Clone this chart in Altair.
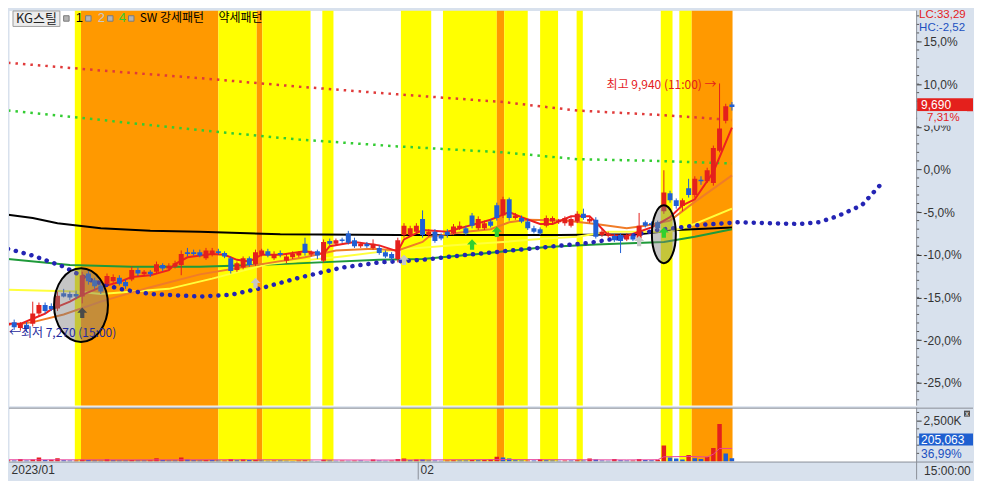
import altair as alt
import pandas as pd

# ---------------- candle data (percent vs. base price) ----------------
opens = [-18.3, -17.9, -18.6, -18.2, -18.1, -16.9, -15.9, -16.0, -16.3, -14.5,
         -14.6, -14.6, -14.9, -12.2, -13.0, -13.6, -13.4, -13.1, -12.7, -13.2,
         -12.9, -11.8, -12.3, -12.0, -12.0, -11.2, -11.6, -11.4, -11.2, -9.7,
         -9.7, -9.7, -10.4, -10.0, -9.6, -9.8, -10.4, -11.8, -11.5, -10.4,
         -11.1, -10.0, -9.6, -10.4, -9.8, -10.7, -10.3, -10.1, -8.7, -10.0,
         -9.6, -10.7, -8.4, -8.7, -8.2, -7.5, -8.3, -9.0, -8.7, -9.2,
         -9.2, -9.7, -9.9, -10.5, -7.7, -7.7, -7.3, -5.8, -7.7, -7.3,
         -7.7, -7.3, -7.5, -6.9, -6.9, -5.4, -6.9, -6.9, -6.1, -4.2,
         -5.4, -3.5, -5.7, -5.7, -6.1, -6.9, -7.0, -6.6, -6.1, -6.2,
         -6.3, -6.6, -6.1, -5.2, -6.1, -5.9, -7.7, -7.8, -7.8, -7.7,
         -8.2, -7.8, -8.1, -6.2, -6.3, -6.2, -4.9, -2.8, -3.6, -4.3,
         -2.2, -3.0, -1.2, -1.4, -1.6, 2.2, 5.7, 7.6]
highs = [-17.6, -17.6, -17.9, -17.9, -15.5, -15.6, -15.6, -15.7, -14.3, -14.0,
         -14.3, -14.2, -12.0, -11.9, -12.7, -13.3, -12.2, -12.3, -12.4, -12.9,
         -11.4, -11.5, -11.8, -11.8, -10.8, -11.0, -11.0, -10.7, -9.5, -9.2,
         -9.4, -9.4, -9.2, -9.2, -9.3, -9.6, -10.2, -10.8, -10.2, -10.2,
         -9.4, -9.3, -9.3, -9.6, -9.5, -9.9, -9.6, -9.6, -8.0, -9.5,
         -9.4, -8.2, -8.1, -8.1, -8.0, -7.2, -8.0, -8.5, -8.5, -8.2,
         -8.9, -9.5, -9.7, -8.0, -6.3, -6.6, -6.3, -4.8, -7.0, -7.0,
         -7.5, -7.0, -6.4, -6.1, -6.6, -5.1, -5.5, -6.0, -5.8, -3.9,
         -3.2, -3.3, -5.1, -5.4, -5.8, -6.6, -6.8, -5.4, -5.5, -5.8,
         -5.5, -5.5, -4.9, -4.6, -5.6, -5.6, -7.0, -7.3, -7.6, -7.5,
         -7.5, -7.5, -5.1, -6.0, -6.1, -6.0, -0.1, -2.5, -3.4, -3.4,
         -1.1, -0.8, -0.8, 0.2, 2.8, 10.08, 7.7, 7.9]
lows = [-19.5, -18.8, -18.9, -19.0, -18.4, -17.2, -16.9, -16.6, -16.6, -15.0,
        -15.3, -15.2, -15.7, -13.5, -14.0, -14.6, -13.6, -13.3, -13.6, -14.0,
        -13.1, -12.5, -12.5, -12.6, -12.2, -11.9, -11.8, -11.6, -12.4, -10.2,
        -10.1, -10.3, -10.6, -10.2, -10.0, -10.4, -12.2, -12.0, -11.7, -11.4,
        -11.3, -10.2, -10.3, -10.6, -10.3, -11.0, -10.5, -10.3, -10.1, -10.2,
        -10.5, -10.9, -8.9, -8.9, -8.6, -8.8, -9.2, -9.2, -9.2, -9.4,
        -10.0, -10.4, -10.8, -10.9, -8.0, -7.9, -7.5, -8.0, -7.9, -8.6,
        -8.3, -8.0, -7.7, -7.1, -7.7, -6.9, -7.1, -7.1, -6.8, -6.0,
        -5.7, -6.0, -5.9, -6.3, -7.1, -7.5, -7.7, -6.8, -6.3, -6.4,
        -6.6, -6.8, -6.3, -5.9, -6.3, -8.1, -7.9, -8.0, -8.5, -9.8,
        -8.4, -8.4, -8.3, -6.8, -6.7, -7.1, -5.2, -3.9, -4.6, -4.9,
        -3.3, -3.3, -1.8, -1.6, -1.9, 2.0, 5.4, 6.9]
closes = [-18.0, -18.5, -18.1, -18.7, -16.9, -15.9, -16.6, -16.4, -14.8, -14.9,
          -15.0, -14.9, -12.4, -13.1, -13.7, -14.3, -12.5, -12.6, -13.4, -13.7,
          -11.8, -12.2, -12.0, -12.3, -11.1, -11.6, -11.3, -11.0, -9.9, -9.9,
          -9.9, -10.1, -9.5, -9.5, -9.8, -10.2, -11.9, -11.0, -10.4, -11.2,
          -9.7, -9.5, -10.1, -9.9, -10.0, -10.2, -9.9, -9.8, -9.8, -9.7,
          -10.1, -8.5, -8.7, -8.3, -8.4, -8.6, -9.0, -8.7, -9.0, -8.7,
          -9.8, -10.2, -10.4, -8.3, -6.6, -6.9, -6.6, -7.7, -7.3, -8.4,
          -8.1, -7.7, -6.7, -6.6, -7.5, -6.6, -5.8, -6.3, -6.6, -5.7,
          -3.5, -5.7, -5.4, -6.1, -6.9, -7.3, -7.5, -5.7, -5.7, -6.0,
          -5.7, -5.8, -5.2, -5.7, -5.8, -7.9, -7.3, -7.5, -8.3, -8.4,
          -7.7, -8.2, -6.6, -6.6, -6.5, -6.9, -2.7, -3.6, -4.3, -3.6,
          -3.0, -1.1, -1.4, -0.1, 2.5, 4.8, 7.4, 7.31]
volume_k = [80, 60, 150, 70, 120, 250, 90, 110, 200, 80,
            60, 70, 110, 90, 60, 50, 150, 80, 70, 60,
            90, 70, 60, 80, 200, 90, 70, 60, 250, 120,
            80, 70, 100, 90, 60, 70, 150, 80, 140, 90,
            110, 60, 50, 70, 60, 50, 40, 60, 80, 50,
            40, 110, 70, 50, 60, 50, 70, 60, 40, 130,
            60, 50, 70, 150, 190, 80, 130, 120, 70, 60,
            50, 60, 80, 70, 60, 100, 80, 90, 130, 300,
            250, 180, 80, 60, 70, 60, 140, 80, 60, 50,
            70, 60, 80, 60, 190, 130, 60, 50, 150, 80,
            60, 70, 150, 90, 80, 110, 980, 250, 180, 120,
            400, 200, 150, 280, 830, 2300, 490, 205.063]

# ---------------- pattern bands (bar index ranges) ----------------
band_start = [10.8, 11.8, 34.0, 40.2, 41.1, 50.8, 63.5, 70.3, 79.0, 80.2, 86.0, 91.9, 105.5, 108.5, 110.5]
band_end = [11.8, 34.0, 40.2, 41.1, 48.9, 52.6, 68.4, 79.0, 80.2, 84.0, 88.9, 92.9, 107.4, 110.5, 117.1]
band_kind = ["약세", "강세", "약세", "강세", "약세", "약세", "약세", "약세", "강세", "약세", "약세", "약세", "약세", "약세", "강세"]

# ---------------- indicator lines ----------------
ma_red_i = [0, 2, 4, 6, 7, 10, 12, 15, 18, 20, 23, 26, 27, 29, 33, 35, 37, 39, 41, 44,
            48, 51, 52, 56, 60, 63, 64, 67, 71, 75, 78, 80, 81, 83, 86, 88, 91, 94, 95, 97,
            100, 102, 104, 105, 107, 109, 111, 114, 117]
ma_red_v = [-18.1, -18.1, -17.5, -16.9, -16.4, -15.5, -14.7, -13.8, -13.2, -12.6, -12.4, -11.8, -11.1, -10.3, -9.9, -10.0, -10.6, -10.8, -10.0, -10.0,
            -9.6, -9.9, -9.0, -8.5, -8.9, -9.6, -8.2, -7.1, -7.3, -6.5, -5.9, -5.3, -5.0, -5.6, -6.4, -6.4, -5.5, -5.5, -6.2, -7.7,
            -7.8, -7.3, -6.8, -6.4, -5.6, -4.2, -3.5, -0.3, 4.9]
ma_or_i = [1, 4, 9, 15, 23, 31, 41, 48, 53, 59, 63, 67, 68, 74, 78, 81, 84, 90, 95, 100, 103, 107, 111, 117]
ma_or_v = [-18.2, -17.9, -17.0, -15.5, -13.8, -12.3, -11.1, -10.3, -9.5, -9.3, -9.5, -8.5, -7.9, -7.3, -7.0, -6.2, -5.9, -6.0, -6.4, -6.9, -6.6, -6.0, -3.8, -0.7]
ma_ye_i = [0, 11, 15, 26, 33, 42, 54, 63, 72, 80, 87, 92, 97, 103, 107, 111, 117]
ma_ye_v = [-14.1, -14.3, -14.6, -14.0, -12.8, -11.1, -10.2, -9.4, -8.9, -8.5, -8.1, -7.9, -7.3, -7.3, -7.3, -6.4, -4.6]
ma_bk_i = [0, 4, 8, 15, 23, 31, 44, 63, 89, 102, 108, 117]
ma_bk_v = [-5.3, -5.7, -6.3, -6.9, -7.2, -7.3, -7.6, -7.7, -7.7, -7.6, -7.1, -6.8]
ma_gr_i = [0, 10, 20, 31, 44, 60, 67, 76, 87, 95, 106, 111, 117]
ma_gr_v = [-10.5, -11.2, -11.4, -11.4, -11.1, -10.6, -10.5, -9.9, -9.1, -8.8, -8.5, -7.9, -7.0]
lead_i = [0, 4, 9, 13, 18, 23, 31, 36, 41, 47, 54, 60, 67, 73, 80, 87, 94, 100, 105, 112,
          118, 123, 128, 131, 134, 138, 141]
lead_v = [-9.3, -10.1, -11.4, -12.9, -14.0, -14.6, -14.9, -14.7, -13.9, -12.7, -11.5, -10.9, -10.6, -10.1, -9.6, -9.1, -8.6, -7.9, -7.1, -6.5,
          -6.2, -6.3, -6.4, -6.2, -5.5, -4.2, -1.8]
env_i = [0, 15, 31, 47, 63, 80, 92, 105, 117]
env_up_v = [12.5, 11.6, 10.7, 9.7, 8.8, 7.9, 6.9, 6.4, 5.8]
env_mid_v = [6.9, 5.8, 4.6, 3.5, 2.7, 2.0, 1.2, 1.0, 0.7]
vma_i = [0, 20, 40, 60, 80, 100, 105, 106, 110, 113, 114, 115, 117]
vma_v = [110, 100, 110, 90, 120, 100, 110, 290, 310, 280, 450, 800, 800]

# signal arrows and highlighted zones
sig_i = [12, 40, 64, 102, 75, 79, 106]
sig_v = [-16.8, -13.3, -10.6, -8.4, -8.8, -7.3, -7.4]
sig_kind = ["1", "2", "2", "2", "4", "4", "4"]
zone_i = [11.8, 106.0]
zone_v = [-15.9, -7.6]

hi_i, lo_i = 115, 0
hi_text = "최고 9,940 (11:00) →"
lo_text = "←최저 7,270 (15:00)"
last_price = 9690
last_volume = "205,063"
last_volume_pct = "36,99%"

# ---------------- styling ----------------
NUM = "Liberation Sans"
KR = "Noto Sans CJK KR"
RED = "#e4201c"
BLUE = "#1f5fd4"
PANEL = "#d8e1ed"
GRAYLINE = "#8a8f98"
PW, PH, VH, BB = 909, 396, 54, 18
TW = 966

xs = alt.Scale(domain=[0.1613, 146.77], nice=False, zero=False, padding=0)
ys = alt.Scale(domain=[-27.69, 18.63], nice=False, zero=False, padding=0)
vs = alt.Scale(domain=[0, 3293], nice=False, zero=False, padding=0)

price_axis = alt.Axis(
    orient="right", values=[-25, -20, -15, -10, -5, 0, 5, 10, 15],
    labelExpr="replace(replace(format(datum.value, '.1f'), '.', ','), '\u2212', '-') + '%'",
    tickSize=5, tickColor="#333", labelPadding=2, labelFont=NUM, labelFontSize=12,
    labelColor="#333", domain=False, grid=False, title=None)
vol_axis = alt.Axis(orient="right", values=[2500], labelExpr="format(datum.value, ',') + 'K'",
                    tickSize=5, tickColor="#333", labelPadding=2, labelFont=NUM, labelFontSize=12,
                    labelColor="#333", domain=False, grid=False, title=None)
x_axis = alt.Axis(orient="bottom", values=[0.5, 66.6],
                  labelExpr="datum.value < 10 ? '2023/01' : '02'",
                  tickSize=0, labelAlign="left", labelPadding=3, labelFont=NUM,
                  labelFontSize=12, labelColor="#333", domain=False, grid=False, title=None,
                  labelOverlap=False)


def XP(field="i"):
    return alt.X(f"{field}:Q", scale=xs, axis=None)


def XV(field="i"):
    return alt.X(f"{field}:Q", scale=xs, axis=x_axis)


def YP(field="v"):
    return alt.Y(f"{field}:Q", scale=ys, axis=price_axis)


def YV(field="v"):
    return alt.Y(f"{field}:Q", scale=vs, axis=vol_axis)


one = pd.DataFrame({"k": [0]})
n = len(closes)
cdf = pd.DataFrame({"i": list(range(n)), "open": opens, "high": highs, "low": lows, "close": closes})
bdf = pd.DataFrame({"s": band_start, "e": band_end, "kind": band_kind})
updown = alt.condition("datum.close >= datum.open", alt.value(RED), alt.value(BLUE))
band_color = alt.condition("datum.kind == '강세'", alt.value("#ff9900"), alt.value("#ffff00"))


def bands(XF):
    return alt.Chart(bdf).mark_rect(clip=True).encode(x=XF("s"), x2="e:Q", color=band_color)


def pline(i_list, v_list, **kw):
    df = pd.DataFrame({"i": i_list, "v": v_list})
    return alt.Chart(df).mark_line(clip=True, **kw).encode(x=XP(), y=YP())


def ellipse(i, v, w, h):
    r = w / h
    path = f"M {-r:.3f} 0 A {r:.3f} 1 0 1 1 {r:.3f} 0 A {r:.3f} 1 0 1 1 {-r:.3f} 0 Z"
    return alt.Chart(pd.DataFrame({"i": [i], "v": [v]})).mark_point(
        shape=path, size=h * h, filled=True, fill="#7f7f7f", fillOpacity=0.45,
        stroke="#000000", strokeWidth=2, strokeOpacity=1, opacity=1
    ).encode(x=XP(), y=YP())


def label(x, y, text, color="#000", size=12, font=KR, align="left", **kw):
    return alt.Chart(one).mark_text(text=text, align=align, baseline="middle", font=font,
                                    fontSize=size, color=color, **kw).encode(
        x=alt.value(x), y=alt.value(y))


def box(x, x2, y, y2, fill, stroke=None):
    kw = {"color": fill}
    if stroke:
        kw.update(stroke=stroke, strokeWidth=1)
    return alt.Chart(one).mark_rect(**kw).encode(
        x=alt.value(x), x2=alt.value(x2), y=alt.value(y), y2=alt.value(y2))


# ---------------- price panel ----------------
wicks = alt.Chart(cdf).mark_rule(clip=True, strokeWidth=1).encode(
    x=XP(), y=YP("low"), y2="high:Q", color=updown)
bodies = alt.Chart(cdf).mark_bar(clip=True, size=5).encode(
    x=XP(), y=YP("open"), y2="close:Q", color=updown)

minor_p = alt.Chart(pd.DataFrame({"v": list(range(-27, 19))})).mark_rule(color="#555").encode(
    y=YP(), x=alt.value(PW), x2=alt.value(PW + 3))

ARROW = "M 0 -1 L 0.95 0 L 0.4 0 L 0.4 1 L -0.4 1 L -0.4 0 L -0.95 0 Z"
sigs = alt.Chart(pd.DataFrame({"i": sig_i, "v": sig_v, "sig": sig_kind})).mark_point(
    shape=ARROW, size=110, filled=True, opacity=1).encode(
    x=XP(), y=YP(),
    color=alt.Color("sig:N", scale=alt.Scale(domain=["1", "2", "4"], range=["#4a4a4a", "#c6c6c6", "#2fd02f"]), legend=None))

hi_lbl = alt.Chart(pd.DataFrame({"i": [hi_i], "v": [highs[hi_i]], "t": [hi_text]})).mark_text(
    align="right", baseline="middle", dx=-3, dy=2, font=KR, fontSize=12, color=RED).encode(
    x=XP(), y=YP(), text="t:N")
lo_lbl = alt.Chart(pd.DataFrame({"i": [lo_i], "v": [lows[lo_i]], "t": [lo_text]})).mark_text(
    align="left", baseline="middle", dx=1, dy=-3, font=KR, fontSize=12, color="#1f2a9c").encode(
    x=XP(), y=YP(), text="t:N")

pdf = pd.DataFrame({"v": [closes[-1]], "price": [f"{last_price:,}"],
                    "chg": [f"{closes[-1]:.2f}".replace(".", ",") + "%"]})
pbase = alt.Chart(pdf).transform_calculate(
    top="datum.v + 1.03", bot="datum.v - 0.49", bg2="datum.v - 2.15",
    mid="datum.v + 0.25", below="datum.v - 1.3")
price_box = pbase.mark_rect(color=RED).encode(x=alt.value(910), x2=alt.value(TW), y=YP("top"), y2="bot:Q")
chg_bg = pbase.mark_rect(color=PANEL).encode(x=alt.value(910), x2=alt.value(960), y=YP("bot"), y2="bg2:Q")
price_txt = pbase.mark_text(align="left", baseline="middle", font=NUM, fontSize=12, color="white").encode(
    x=alt.value(914), y=YP("mid"), text="price:N")
chg_txt = pbase.mark_text(align="left", baseline="middle", font=NUM, fontSize=11.5, color=RED).encode(
    x=alt.value(920), y=YP("below"), text="chg:N")

chk = alt.Chart(pd.DataFrame({"x": [57.5, 79.5, 101.5, 122.5]})).mark_square(
    size=30, filled=True, color="#b4b4b4", stroke="#7a7a7a", strokeWidth=1, opacity=1).encode(
    x=alt.X("x:Q", scale=None), y=alt.value(8))

price_layers = [
    bands(XP),
    minor_p,
    pline(env_i, env_up_v, color="#e03a3a", strokeWidth=2.5, strokeDash=[2.5, 5]),
    pline(env_i, env_mid_v, color="#33cc33", strokeWidth=2.5, strokeDash=[2.5, 5]),
    pline(ma_bk_i, ma_bk_v, color="#000000", strokeWidth=2),
    pline(ma_gr_i, ma_gr_v, color="#1f9a3a", strokeWidth=2),
    pline(ma_ye_i, ma_ye_v, color="#ffff3c", strokeWidth=2),
    pline(ma_or_i, ma_or_v, color="#f07c28", strokeWidth=2),
    pline(ma_red_i, ma_red_v, color="#ee2020", strokeWidth=2),
    pline(lead_i, lead_v, color="#2424b4", strokeWidth=4.5, strokeDash=[0.1, 8], strokeCap="round"),
    wicks, bodies,
    ellipse(zone_i[0], zone_v[0], 54, 74),
    ellipse(zone_i[1], zone_v[1], 24, 58),
    sigs, hi_lbl, lo_lbl,
    price_box, chg_bg, price_txt, chg_txt,
    label(912, 5, "LC:33,29", color=RED, font=NUM, size=11.5),
    label(912, 17.5, "HC:-2,52", color="#2050c0", font=NUM, size=11.5),
    box(4, 51, 0.5, 16, "#ececec", stroke="#a0a0a0"),
    label(27.5, 8.5, "KG스틸", color="#222", size=13, align="center"),
    chk,
    label(67, 8, "1", color="#000", font=NUM, size=13),
    label(89, 8, "2", color="#c8c8c8", font=NUM, size=13),
    label(110, 8, "4", color="#33cc33", font=NUM, size=13),
    label(131, 8, "SW 강세패턴", color="#000"),
    label(210, 8, "약세패턴", color="#000"),
    alt.Chart(one).mark_rule(color=GRAYLINE).encode(x=alt.value(PW + 0.5), y=alt.value(0), y2=alt.value(PH)),
]
price = alt.layer(*price_layers).properties(width=PW, height=PH)

# ---------------- volume panel ----------------
vdf = pd.DataFrame({"i": list(range(n)), "v": volume_k})
vdf["up"] = vdf["v"] >= vdf["v"].shift(1).fillna(0)
vbars = alt.Chart(vdf).mark_bar(clip=True, size=4.5).encode(
    x=XV(), y=YV(),
    color=alt.condition("datum.up", alt.value(RED), alt.value(BLUE)))
vma = alt.Chart(pd.DataFrame({"i": vma_i, "v": vma_v})).mark_line(
    clip=True, color="#e8409c", strokeWidth=1).encode(x=XV(), y=YV())
minor_v = alt.Chart(pd.DataFrame({"v": [500, 1000, 1500, 2000, 3000]})).mark_rule(color="#555").encode(
    y=YV(), x=alt.value(PW), x2=alt.value(PW + 3))
month_sep = alt.Chart(pd.DataFrame({"i": [66.3]})).mark_rule(color=GRAYLINE).encode(
    x=XV(), y=alt.value(VH), y2=alt.value(VH + BB))


def hrule(y):
    return alt.Chart(one).mark_rule(color=GRAYLINE).encode(
        x=alt.value(0), x2=alt.value(TW), y=alt.value(y))


vol_layers = [
    bands(XV), vbars, vma, minor_v, month_sep,
    hrule(0.5), hrule(VH + 0.5),
    alt.Chart(one).mark_rule(color=GRAYLINE).encode(x=alt.value(PW + 0.5), y=alt.value(0), y2=alt.value(VH + BB)),
    label(917, VH + 9, "15:00:00", color="#333", font=NUM),
    box(912, TW, 26, 38, "#1f5fd0"),
    label(914, 32, last_volume, color="white", font=NUM),
    label(914, 46, last_volume_pct, color="#2050c0", font=NUM),
    box(957, 963, 3, 9, "#505050"),
    label(960, 6, "x", color="white", font=NUM, size=7, align="center"),
]
volume = alt.layer(*vol_layers).properties(width=PW, height=VH)

chart = alt.vconcat(price, volume, spacing=0).properties(
    background=PANEL, padding={"left": 0, "top": 0, "right": 0, "bottom": 0}
).configure_view(fill="white", stroke="transparent")

chart.save("out.html", embed_options={"renderer": "svg", "actions": False})
